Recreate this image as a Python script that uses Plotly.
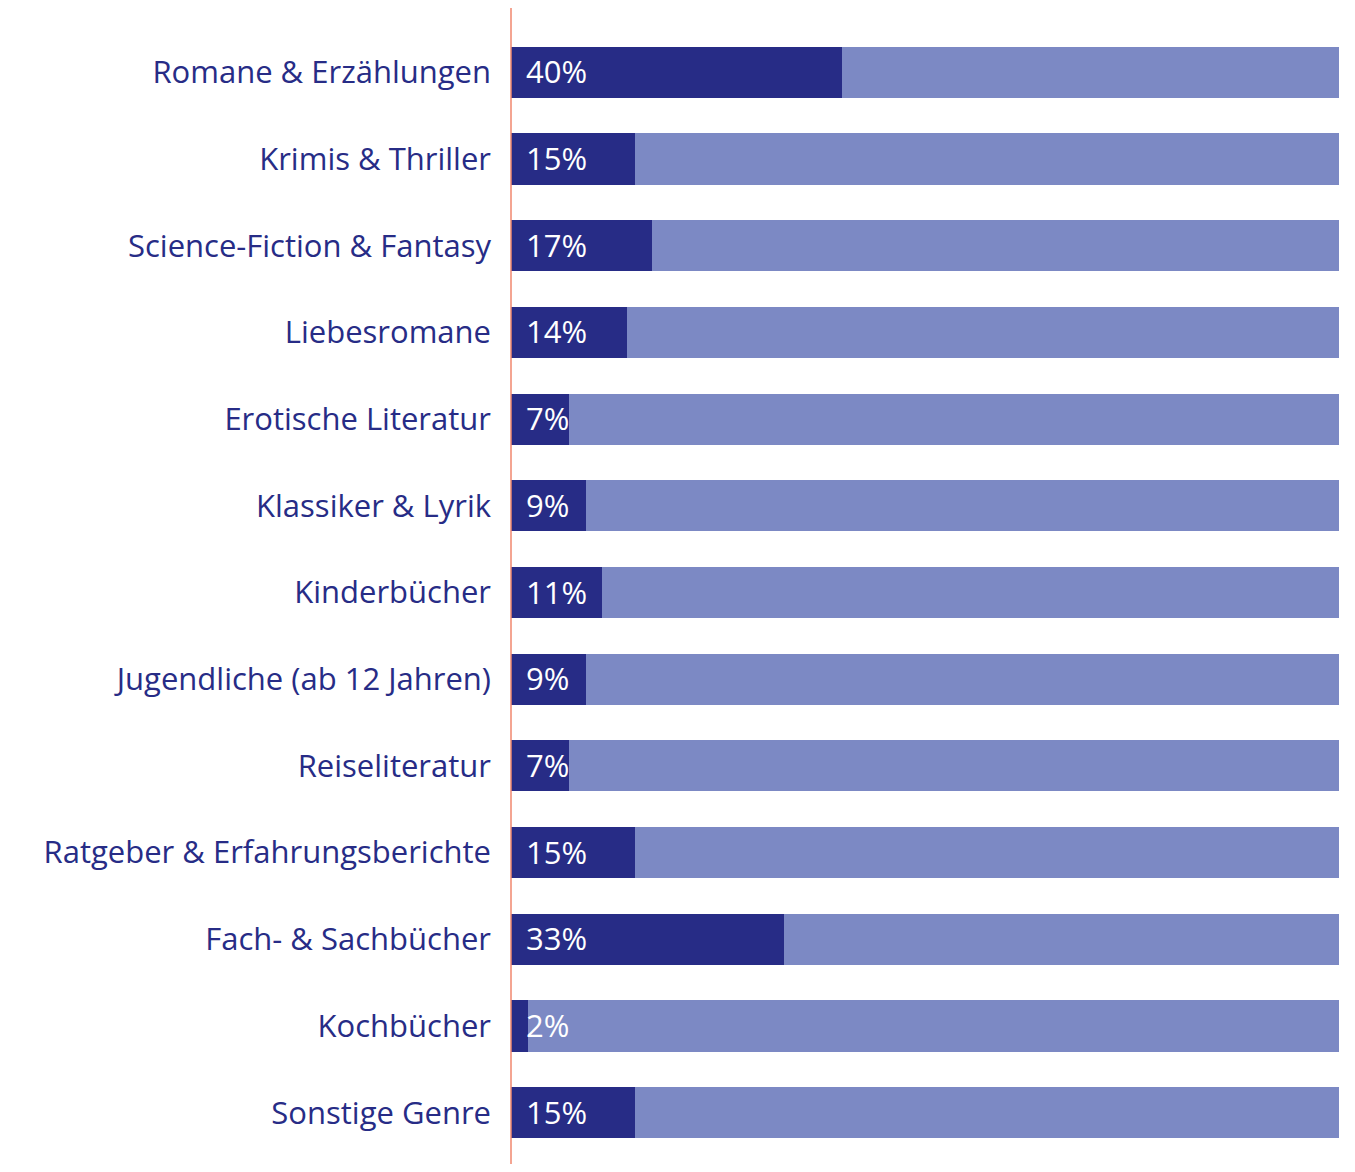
import plotly.graph_objects as go

categories = [
    "Romane & Erzählungen", "Krimis & Thriller", "Science-Fiction & Fantasy",
    "Liebesromane", "Erotische Literatur", "Klassiker & Lyrik", "Kinderbücher",
    "Jugendliche (ab 12 Jahren)", "Reiseliteratur", "Ratgeber & Erfahrungsberichte",
    "Fach- & Sachbücher", "Kochbücher", "Sonstige Genre",
]
values = [40, 15, 17, 14, 7, 9, 11, 9, 7, 15, 33, 2, 15]
total = 100
rest = [total - v for v in values]
value_labels = [f"{v}%" for v in values]

DARK = "#272C86"
LIGHT = "#7C89C4"
RED = "#F0876E"
FONT = "Open Sans"

fig = go.Figure()
fig.add_trace(go.Bar(
    y=categories, x=values, orientation="h", marker=dict(color=DARK, line=dict(width=0)),
    hoverinfo="skip", width=0.59,
))
fig.add_trace(go.Bar(
    y=categories, x=rest, orientation="h", marker=dict(color=LIGHT, line=dict(width=0)),
    hoverinfo="skip", width=0.59,
))

for cat, lab in zip(categories, value_labels):
    fig.add_annotation(x=0, y=cat, text=lab, showarrow=False, xanchor="left",
                       xshift=13, yshift=1,
                       font=dict(family=FONT, size=31, color="white"))

fig.add_shape(type="line", xref="paper", yref="paper", x0=0, x1=0, y0=-0.01, y1=1.021,
              line=dict(color=RED, width=1.5), layer="above")

fig.update_layout(
    width=1339, height=1156,
    barmode="stack", showlegend=False,
    plot_bgcolor="white", paper_bgcolor="white",
    margin=dict(l=503, r=8, t=21, b=8),
    bargap=0.41,
    font=dict(family=FONT, color=DARK),
    xaxis=dict(range=[0, total], visible=False, fixedrange=True),
    yaxis=dict(autorange="reversed", showgrid=False, zeroline=False, showline=False,
               ticks="", ticklabelstandoff=19,
               tickfont=dict(family=FONT, size=31, color=DARK)),
)

fig.write_html("out.html")
